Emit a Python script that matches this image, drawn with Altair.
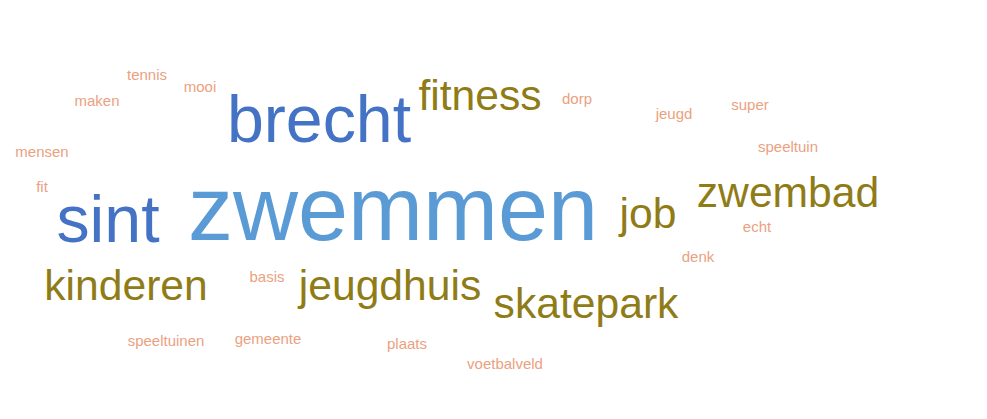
import altair as alt
import pandas as pd

# word frequencies
words = ["zwemmen", "brecht", "sint", "fitness", "zwembad", "job", "kinderen",
         "jeugdhuis", "skatepark", "tennis", "mooi", "maken", "mensen", "fit",
         "dorp", "jeugd", "super", "speeltuin", "echt", "denk", "basis",
         "speeltuinen", "gemeente", "plaats", "voetbalveld"]
counts = [22, 16, 16, 10, 10, 10, 10, 10, 10, 3, 3, 3, 3, 3,
          3, 3, 3, 3, 3, 3, 3, 3, 3, 3, 3]
# word-cloud layout coordinates (centre x, baseline y)
layout_x = [393, 319, 108, 480, 788, 648, 126, 390, 586, 147, 200, 97, 42, 42,
            577, 674, 750, 788, 757, 698, 267, 166, 268, 407, 505]
layout_y = [240, 142, 242, 110, 207, 228, 300, 300, 318, 80, 92, 106, 157, 192,
            104, 119, 110, 152, 232, 262, 282, 346, 344, 349, 369]

df = pd.DataFrame({"word": words, "count": counts, "lx": layout_x, "ly": layout_y})

chart = alt.Chart(df).mark_text(
    font="Liberation Sans", baseline="alphabetic", align="center"
).encode(
    x=alt.X("lx:Q", scale=alt.Scale(domain=[8, 979], nice=False, zero=False), axis=None),
    y=alt.Y("ly:Q", scale=alt.Scale(domain=[8, 411], nice=False, zero=False, reverse=True), axis=None),
    text="word:N",
    size=alt.Size("count:Q", scale=alt.Scale(domain=[3, 22], range=[15, 90]), legend=None),
    color=alt.Color("count:Q", scale=alt.Scale(type="threshold", domain=[5, 15, 20],
                    range=["#eba17f", "#8f7c17", "#4472c4", "#5b9bd5"]), legend=None),
).properties(
    width=971, height=403, padding=0, background="white",
    autosize=alt.AutoSizeParams(type="none")
).configure_view(stroke=None)

chart.save("out.html", embed_options={"renderer": "svg", "actions": False})
